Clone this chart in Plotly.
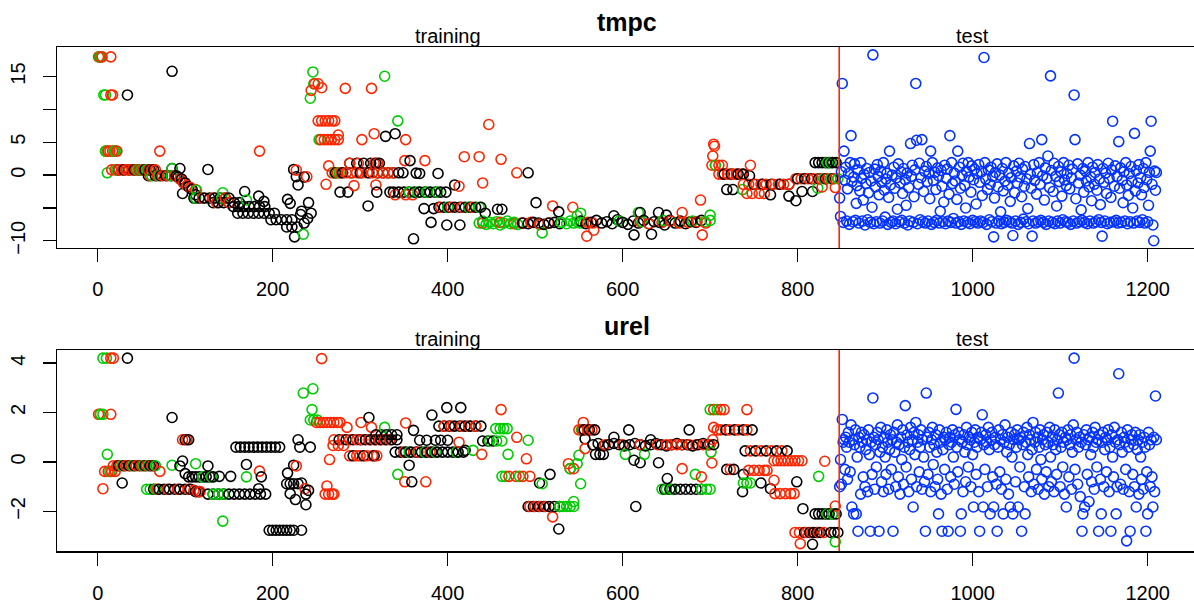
import plotly.graph_objects as go

FONT = "Liberation Sans, Arial, Helvetica, sans-serif"
BLACK = "#000000"
RED = "#FF2600"
GREEN = "#00CC00"
BLUE = "#0433FF"

# ---------------- tmpc : training (index, value) per colour ----------------
tmpc_black_x = [24, 30, 36, 42, 48, 54, 60, 64, 34, 85,
                58, 66, 72, 78, 84, 90, 85, 94,
                92, 96, 97, 100, 104, 108, 112, 126,
                110, 116, 122, 128, 134, 140, 146, 150,
                132, 138, 144, 150, 156, 162,
                155, 161, 167, 173, 179, 185, 191,
                160, 166, 172, 178, 184, 190, 196, 202,
                198, 204, 210, 216, 222, 216, 222, 228,
                168, 184, 190, 217, 220, 224, 227, 229, 236, 225, 232, 236, 240, 244, 241, 233,
                272, 280, 290, 300, 310, 320, 326, 332, 338, 344,
                288, 296, 304, 312, 318, 322,
                277, 286, 309, 319, 329, 340, 334, 349, 357, 364,
                338, 344, 350, 356, 362, 368, 374, 380, 386, 392, 398,
                361, 373, 381, 384, 389, 399, 414, 368,
                390, 396, 402, 408, 414, 420, 426, 432, 438,
                408, 443, 457, 462, 492, 501, 527,
                486, 492, 498, 504, 510, 516, 522, 528,
                552, 558, 564, 570, 576, 582, 588, 594, 600, 606, 612, 618,
                624, 630, 636, 642, 648, 654, 660, 666, 672, 678, 684, 690,
                590, 613, 633, 620, 641, 650,
                716, 724, 732, 738, 719, 726, 745,
                750, 760, 770, 780, 790, 790, 798, 805, 817, 769,
                800, 808, 816, 824, 832, 840,
                820, 824, 828, 832, 836, 840, 844]
tmpc_black_y = [0.8, 0.8, 0.8, 0.8, 0.8, 0.8, 0.8, 0.8, 12.2, 15.8,
                -0.1, -0.1, -0.1, -0.1, -0.1, -0.1, 1.0, 1.0,
                -0.3, -0.6, -2.8, -1.2, -1.8, -2.2, -3.0, 0.86,
                -3.5, -3.5, -3.5, -3.5, -3.5, -3.5, -3.5, -3.5,
                -4.2, -4.2, -4.2, -4.2, -4.2, -4.2,
                -4.8, -4.8, -4.8, -4.8, -4.8, -4.8, -4.8,
                -5.8, -5.8, -5.8, -5.8, -5.8, -5.8, -5.8, -5.8,
                -6.8, -6.8, -6.8, -6.8, -6.8, -7.9, -7.9, -7.9,
                -2.5, -3.2, -4.0, -3.7, -4.3, 0.86, -0.25, -1.5, -0.3, -9.4, -6.0, -7.3, -6.6, -5.8, -4.2, -5.5,
                0.35, 0.35, 0.35, 0.35, 0.35, 0.35, 0.35, 0.35, 0.35, 0.35,
                1.8, 1.8, 1.8, 1.8, 1.8, 1.8,
                -2.6, -2.6, -4.7, -2.6, 5.9, 6.3, -2.6, 0.35, 2.2, 0.3,
                -2.6, -2.6, -2.6, -2.6, -2.6, -2.6, -2.6, -2.6, -2.6, -2.6, -2.6,
                -9.7, -5.1, -7.2, -5.1, 0.25, -7.6, -7.6, 0.25,
                -4.9, -4.9, -4.9, -4.9, -4.9, -4.9, -4.9, -4.9, -4.9,
                -1.5, -5.8, -5.2, -5.2, 0.35, -4.2, -5.6,
                -7.3, -7.4, -7.2, -7.3, -7.5, -7.3, -7.2, -7.4,
                -7.0, -7.4, -7.2, -6.9, -7.3, -7.1, -7.4, -6.8, -7.2, -7.5, -7.0, -7.3,
                -6.9, -7.4, -7.1, -7.2, -7.6, -6.9, -7.3, -7.0, -7.4, -7.1, -7.2, -6.9,
                -6.2, -9.1, -9.0, -5.7, -5.7, -6.1,
                0.15, 0.15, 0.15, 0.15, -2.2, -2.2, -0.1,
                -1.4, -1.4, -1.4, -1.4, -1.4, -3.2, -3.9, -2.5, -2.5, -3.0,
                -0.55, -0.55, -0.55, -0.55, -0.55, -0.55,
                1.9, 1.9, 1.9, 1.9, 1.9, 1.9, 1.9]

tmpc_red_x = [1, 3, 5, 15, 15, 17, 9, 12, 14, 17, 19, 22, 71, 185,
              16, 20, 24, 28, 32, 36, 40, 44, 48, 52, 58, 62, 66,
              60, 68, 74, 80, 88, 94, 98, 102, 106, 112,
              120, 132, 146, 136, 150, 227, 239,
              244, 248, 252, 256,
              252, 256, 260, 264, 268, 271,
              255, 259, 263, 267, 271, 275, 275, 264, 261,
              268, 274, 278, 284, 290, 296, 302, 308, 314, 320, 326, 332, 338,
              288, 298, 316, 320,
              293, 318, 283, 313, 302, 316, 352,
              340, 352, 360, 351, 374,
              392, 404, 416, 428,
              413, 419, 436, 447, 440, 461, 479, 520, 543,
              440, 460, 476, 485, 495, 505, 515,
              560, 566, 620, 630, 645, 655, 665, 675, 685, 695,
              559, 567, 668, 689, 691,
              703, 704, 705, 702, 706, 710, 714,
              710, 714, 720, 726, 730, 736, 746,
              738, 744, 752, 758, 764, 772, 778, 784, 790,
              742, 748, 756, 762, 828,
              798, 804, 812, 818, 826, 834, 842, 843]
tmpc_red_y = [18.0, 18.0, 18.0, 18.0, 12.2, 12.2, 3.65, 3.65, 3.65, 3.65, 3.65, 3.65, 3.65, 3.65,
              0.8, 0.8, 0.8, 0.8, 0.8, 0.8, 0.8, 0.8, 0.8, 0.8, 0.8, 0.8, 0.8,
              -0.1, -0.1, -0.1, -0.1, -0.1, -0.6, -1.2, -1.6, -1.9, -2.2,
              -3.5, -3.5, -3.5, -4.2, -4.2, 0.76, -0.25,
              12.9, 13.9, 13.9, 13.3,
              8.26, 8.26, 8.26, 8.26, 8.26, 8.26,
              5.4, 5.4, 5.4, 5.4, 5.4, 5.4, 6.1, 1.4, -1.4,
              0.35, 0.35, 0.35, 0.35, 0.35, 0.35, 0.35, 0.35, 0.35, 0.35, 0.35, 0.35, 0.35,
              1.8, 1.8, 1.8, 1.8,
              -1.6, -1.5, 13.2, 13.2, 5.4, 6.3, 5.4,
              -3.0, -3.0, -3.0, 2.2, 2.2,
              -4.9, -4.9, -4.9, -4.9,
              -1.7, 2.8, 2.8, 7.7, -1.2, 2.4, 0.35, -4.7, -4.9,
              -7.3, -7.2, -7.4, -7.3, -7.2, -7.5, -7.3,
              -7.2, -7.3, -7.1, -7.4, -7.2, -7.0, -7.3, -7.2, -7.1, -7.3,
              -9.3, -8.4, -5.7, -3.8, -9.1,
              2.9, 4.7, 4.4, 1.5, 1.5, 1.5, 1.5,
              0.15, 0.15, 0.15, 0.15, 0.15, 0.15, 1.5,
              -1.4, -1.4, -1.4, -1.4, -1.4, -1.4, -1.4, -1.4, -1.4,
              -2.8, -2.8, -2.8, -2.8, -1.8,
              -0.55, -0.55, -0.55, -0.55, -0.55, -0.55, -0.55, -1.9]

tmpc_green_x = [2, 4, 7, 9, 9, 11, 19, 21, 11,
                22, 46, 50, 56, 62, 70, 84, 85,
                113, 112, 142, 143, 170, 235,
                246, 243, 247, 253, 271, 276, 328, 343,
                356, 366, 376, 388, 400, 424, 436,
                436, 440, 444, 448, 452, 456, 460, 464, 468, 472, 476, 480,
                530, 536, 540, 544, 548, 552, 548, 552, 508,
                596, 622, 646, 664, 680, 694, 700, 618, 700,
                706, 737, 823, 830, 838, 846, 834, 838]
tmpc_green_y = [18.0, 18.0, 12.2, 12.2, 3.65, 3.65, 3.65, 3.65, 0.35,
                0.8, 0.8, 0.8, 0.8, -0.1, -0.1, -0.1, 1.0,
                -2.3, -3.5, -3.5, -2.7, -3.8, -9.0,
                15.7, 11.7, 13.9, 5.4, 0.35, 0.35, 15.05, 8.26,
                -2.6, -2.6, -2.6, -2.6, -4.9, -4.9, -4.9,
                -7.3, -7.0, -7.5, -7.2, -7.4, -7.1, -7.6, -7.3, -7.0, -7.4, -7.2, -7.5,
                -7.2, -7.4, -7.0, -7.3, -6.2, -5.8, -7.1, -7.3, -8.8,
                -7.0, -7.1, -6.9, -7.2, -7.0, -7.1, -6.9, -5.7, -6.1,
                1.5, -2.2, -2.0, -0.55, -0.55, -0.55, 1.9, 1.9]

# ---------------- tmpc : test (index 848..1210) ----------------
tmpc_test_y = [
    -3.5, -6.3, 0.5, 13.95, -7.2, 3.65, -0.8, 1.2, -7.0, -2.1, 0.2, -7.5, 1.9, 6.0, -1.0, -7.1, -0.3, 1.7, -6.9, -4.3,
    -1.6, 0.8, -7.3, -2.4, 1.9, -0.5, -7.0, -3.8, 0.1, -7.6, -1.3, 1.0, -6.8, -2.7, 0.4, -7.2, -0.9, -4.9, 18.3, -7.4,
    0.9, -1.8, -7.1, 1.6, -0.2, -3.0, -7.3, 0.6, -1.1, -7.0, 1.9, -2.3, -6.4, -0.6, 0.3, -7.5, -3.4, 3.65, -1.5, -7.2,
    0.0, -7.0, 1.2, -2.0, -7.4, -0.4, -5.2, 1.7, -7.1, -1.2, 0.5, -6.9, -2.8, 1.0, -7.3, -0.7, -4.6, 0.3, -7.6, -1.9,
    -7.0, 4.8, -0.2, 1.5, -7.2, -3.3, 0.8, 13.95, 5.3, -7.4, -1.4, 1.8, -6.8, -0.4, 5.4, -7.1, -2.5, 0.6, -7.3, 1.3,
    -1.0, -7.0, 0.2, -3.6, 3.65, -7.5, 1.9, -0.8, -7.2, 0.4, -2.2, -6.9, 1.1, -0.1, -7.3, -5.5, 0.7, -1.7, -7.1, -4.1,
    1.5, -7.4, -0.5, 0.9, -7.0, -2.9, 6.0, -7.2, 1.9, -1.3, -6.6, 0.3, -0.9, -7.3, -3.7, 3.65, -7.1, 1.2, -2.0, -7.5,
    0.0, 1.8, -7.0, -1.6, -5.0, 0.6, -7.2, 1.9, -0.3, -7.4, -2.6, 1.4, -6.9, -0.7, 0.9, -7.1, -4.4, 0.2, -7.3, 1.6,
    -1.1, -7.0, 0.5, -3.1, -7.2, 17.9, 1.9, -0.6, -7.5, -2.2, 0.8, -6.8, -1.4, 1.2, -7.1, -0.2, -9.4, -3.5, 0.4, -7.3,
    1.7, -1.8, -7.0, 0.0, -5.6, -7.4, 1.0, -2.4, -7.2, -0.9, 1.9, -6.9, -1.5, 0.3, -7.1, -4.0, -0.4, -7.3, -9.2, 1.4,
    -2.7, -7.0, 0.6, -1.2, -7.5, 1.8, -0.3, -7.2, -3.3, 0.9, -6.7, -1.7, 1.3, -7.1, -0.6, -5.1, -7.4, 4.8, 0.1, -2.0,
    -9.3, -7.0, 1.6, -0.8, -7.3, -2.9, 0.4, -7.1, 1.9, -1.4, -6.9, 5.4, -0.1, -7.2, -3.8, 1.1, -7.5, -0.5, 2.9, -7.0,
    -1.9, 15.1, 0.7, -7.2, -2.5, 1.8, -7.4, -0.2, -4.7, -7.0, 1.3, -1.0, -7.3, 0.5, -3.2, -6.8, 1.9, -0.7, -7.1, -1.6,
    0.2, -7.2, 1.5, -2.1, -7.5, -0.4, 0.9, -7.0, 12.2, 5.4, -3.6, -7.3, 1.7, -1.2, -7.1, 0.0, -5.3, -6.9, 1.0, -2.6,
    -7.2, 0.6, -0.9, -7.4, 1.9, -1.8, -7.0, -0.3, -3.9, 1.2, -7.3, -1.4, 0.4, -7.1, -2.3, 1.6, -6.8, -0.6, -4.5, -7.2,
    -9.3, 1.0, -1.1, -7.0, 0.3, -2.8, -7.4, 1.8, -0.5, -7.2, -3.4, 0.8, 8.2, -7.1, -1.7, 1.4, -6.9, -0.2, -7.3, 5.1,
    -2.0, 1.1, -7.2, -0.8, -4.2, 0.5, -7.0, 1.9, -1.5, -7.4, -3.1, 0.2, -7.1, 1.3, -0.9, -5.0, -7.3, 6.35, -2.4, 0.7,
    -7.0, -1.2, 1.6, -7.2, -0.4, -3.0, -6.8, 1.0, -1.9, -7.3, 1.9, -0.7, -7.1, -4.6, 0.4, 3.65, 8.2, -1.4, -7.6, -10.0,
    0.6, -2.3, 0.4]

# ---------------- urel : training (index, value) per colour ----------------
urel_black_x = [34, 28, 24, 30, 36, 42, 48, 54, 60, 64, 85, 97, 94, 100, 100, 104,
                64, 70, 76, 82, 88, 94, 100, 106, 112, 116,
                104, 108, 112, 116, 120, 124, 128, 132, 126, 139, 152,
                126, 132, 138, 144, 150, 156, 162, 168, 174, 180, 186, 170,
                158, 163, 168, 173, 178, 183, 188, 193, 198, 203, 208,
                187, 184, 192,
                196, 200, 204, 208, 212, 216, 220, 224, 233,
                217, 216, 220, 224, 229, 220, 226, 238, 233, 241, 238,
                229, 231, 243, 224,
                276, 284, 292, 300, 306, 312, 318, 324, 330, 336, 342, 310,
                292, 304, 316, 318, 324, 330, 336, 342,
                359, 356, 361, 382,
                340, 346, 352, 358, 364, 370, 376, 382, 388, 394, 400, 406, 412, 418,
                368, 376, 386, 392, 400, 399, 415, 420,
                390, 396, 402, 408, 414, 420, 426, 432, 438,
                440, 446, 452, 517, 505,
                492, 498, 504, 510, 516, 522, 528, 527,
                556, 562, 568, 557, 569, 574, 578,
                566, 572, 578, 584, 590, 596, 602, 608, 614, 620, 626, 632,
                638, 644, 650, 656, 662, 668, 674, 680, 686, 692, 698, 704,
                607, 590, 632, 613, 620, 641, 615,
                648, 654, 660, 666, 672, 678, 684, 690, 651, 676,
                718, 728, 738, 748, 719, 727, 738, 737,
                740, 752, 764, 776, 788, 758, 769, 799, 806,
                808, 814, 818, 822, 826, 817,
                820, 824, 828, 832, 836, 840, 844, 838, 842, 846]
urel_black_y = [4.2, -0.85, -0.15, -0.15, -0.15, -0.15, -0.15, -0.15, -0.15, -0.15, 1.8, 0.04, -0.16, -0.47, 0.9, 0.9,
                -1.1, -1.1, -1.1, -1.1, -1.1, -1.1, -1.1, -1.1, -1.2, -1.2,
                -0.6, -0.6, -0.6, -0.6, -0.6, -0.6, -0.6, -0.6, -0.16, -0.58, -0.58,
                -1.3, -1.3, -1.3, -1.3, -1.3, -1.3, -1.3, -1.3, -1.3, -1.3, -1.3, -0.1,
                0.6, 0.6, 0.6, 0.6, 0.6, 0.6, 0.6, 0.6, 0.6, 0.6, 0.6,
                -0.6, -1.08, -1.3,
                -2.76, -2.76, -2.76, -2.76, -2.76, -2.76, -2.76, -2.76, -2.76,
                -0.45, -0.88, -0.88, -0.88, -0.88, -1.28, -1.52, -1.73, -0.85, -1.15, -1.3,
                0.9, 0.6, 0.6, -0.13,
                0.9, 0.9, 0.9, 0.9, 0.9, 0.9, 0.9, 0.9, 0.9, 0.9, 0.9, 1.8,
                0.25, 0.25, 0.25, 1.1, 1.1, 1.1, 1.1, 1.1,
                -0.8, -0.13, 1.28, 1.9,
                0.4, 0.4, 0.4, 0.4, 0.4, 0.4, 0.4, 0.4, 0.4, 0.4, 0.4, 0.4, 0.4, 0.4,
                0.88, 0.88, 0.88, 0.88, 0.88, 2.2, 2.2, 0.47,
                1.45, 1.45, 1.45, 1.45, 1.45, 1.45, 1.45, 1.45, 1.45,
                0.85, 0.85, 0.85, -0.5, -0.85,
                -1.8, -1.8, -1.8, -1.8, -1.8, -1.8, -1.8, -2.71,
                1.3, 1.3, 1.3, 0.94, 0.31, 0.31, 0.31,
                0.7, 0.75, 0.65, 0.7, 0.75, 0.7, 0.65, 0.7, 0.75, 0.7, 0.65, 0.7,
                0.75, 0.7, 0.65, 0.7, 0.75, 0.7, 0.7, 0.65, 0.7, 0.75, 0.7, 0.7,
                1.3, 1.0, 0.9, 0.07, -0.03, -0.03, -1.8,
                -1.1, -1.1, -1.1, -1.1, -1.1, -1.1, -1.1, -1.1, -0.67, 1.3,
                1.3, 1.3, 1.3, 1.3, -0.3, -0.3, -0.5, -1.2,
                0.45, 0.45, 0.45, 0.45, 0.45, -0.85, -1.08, -0.8, -1.89,
                -2.85, -2.85, -2.85, -2.85, -2.85, -3.33,
                -2.1, -2.1, -2.1, -2.1, -2.1, -2.1, -2.1, -2.85, -2.85, -2.85]

urel_red_x = [15, 18, 1, 3, 15, 6, 8, 12, 16, 20,
              18, 22, 26, 32, 38, 44, 50, 56, 62, 71, 97, 102,
              68, 80, 92, 104, 110, 114, 117, 185, 227, 237, 256,
              250, 254, 258, 262, 266, 270, 274, 277, 260, 264, 268, 270, 262, 265,
              270, 280, 288, 296, 302, 310, 316, 322, 328, 334, 269, 275, 281,
              285, 301, 313, 352, 288, 296, 300, 308, 314, 319, 351, 375,
              350, 366, 380, 396, 404, 416, 424, 432, 413,
              439, 461, 479, 490, 470, 478, 486, 494,
              494, 500, 506, 512, 520, 540, 544, 538,
              550, 554, 560, 565, 555, 557,
              580, 600, 620, 640, 650, 656, 662, 668, 676, 684, 692, 700, 668, 690,
              704, 712, 716, 704, 703, 702,
              708, 712, 722, 732, 742, 742, 723,
              744, 750, 756, 762, 765, 746, 758, 770, 782, 773,
              774, 780, 786, 792, 796,
              773, 777, 781, 785, 789, 793, 797, 801, 805,
              797, 802, 810, 816, 824, 830, 803, 831, 843]
urel_red_y = [4.2, 4.2, 1.93, 1.93, 1.93, -1.08, -0.38, -0.38, -0.38, -0.38,
              -0.15, -0.15, -0.15, -0.15, -0.15, -0.15, -0.15, -0.15, -0.15, -0.38, 0.9, 0.9,
              -1.1, -1.1, -1.1, -1.1, -1.15, -1.2, -1.2, -0.37, -0.16, -1.08, 4.18,
              1.6, 1.6, 1.6, 1.6, 1.6, 1.6, 1.6, 1.6, -1.3, -1.3, -1.3, -1.3, -0.97, 0.1,
              0.9, 0.9, 0.9, 0.9, 0.9, 0.9, 0.9, 0.9, 0.9, 0.9, 0.67, 0.67, 0.67,
              1.4, 1.6, 1.4, 1.58, 0.25, 0.25, 0.25, 0.25, 0.25, 0.25, -0.8, -0.8,
              0.4, 0.4, 0.4, 1.45, 1.45, 1.45, 1.45, 1.45, 0.8,
              0.31, 2.12, 1.0, 0.13, -0.58, -0.58, -0.58, -0.58,
              -1.8, -1.8, -1.8, -1.8, -2.22, -0.27, -0.27, -0.07,
              1.3, 1.3, 1.3, 1.3, 1.6, 0.54,
              0.7, 0.7, 0.7, 0.7, 0.7, 0.7, 0.7, 0.7, 0.7, 0.7, 0.7, 0.7, -0.27, -0.6,
              2.12, 2.12, 2.12, 1.4, 0.9, -0.04,
              1.3, 1.3, 1.3, 1.3, 1.3, 2.12, -0.3,
              -0.34, -0.34, -0.34, -0.34, -0.34, 0.45, 0.45, 0.45, 0.45, -0.74,
              -1.28, -1.28, -1.28, -1.28, -1.28,
              0.05, 0.05, 0.05, 0.05, 0.05, 0.05, 0.05, 0.05, 0.05,
              -2.85, -2.85, -2.85, -2.85, -2.85, -2.85, -3.3, 0.03, -1.78]

urel_green_x = [6, 10, 3, 6, 11, 14, 28, 40, 52, 58, 66, 85, 112,
                56, 60, 66, 120, 130, 132, 138, 144, 143, 170,
                235, 246, 245, 243, 247, 251, 328, 343,
                356, 374, 386, 410, 429, 448, 456, 462,
                455, 460, 464, 468, 469, 492, 462, 466, 482, 508,
                528, 532, 536, 540, 544, 544, 552, 540, 548, 550, 553,
                603, 625, 645, 650, 656, 690, 696, 700, 683,
                700, 708, 701, 738, 742, 746, 824, 834, 840, 843]
urel_green_y = [4.2, 4.2, 1.93, 1.93, 0.31, -0.38, -0.15, -0.15, -0.15, -0.15, -0.15, -0.13, -0.07,
                -1.1, -1.1, -1.1, -0.6, -0.6, -1.3, -1.3, -1.3, -2.39, -0.6,
                2.79, 2.96, 2.12, 1.7, 1.7, 1.7, 1.4, -0.5,
                0.4, 0.4, 0.4, 0.4, 0.47, 0.85, 0.85, 0.85,
                1.35, 1.35, 1.35, 1.35, 0.31, 0.88, -0.58, -0.58, -0.58, -0.88,
                -1.8, -1.8, -1.8, -1.8, -1.8, -1.6, -0.88, -0.27, -0.07, 0.27, 1.3,
                0.31, 0.31, -1.1, -1.1, -1.1, -1.1, -1.1, -1.1, -0.5,
                2.12, 2.12, 0.4, -0.85, -0.85, -0.85, -0.58, -2.1, -2.1, -3.23]

# ---------------- urel : test (index 848..1210) ----------------
urel_test_y = [
    -1.0, 0.1, -0.9, 1.72, 0.8, 0.9, -0.3, 1.0, 0.6, -0.7, 1.2, 0.8, -0.4, 1.5, -1.82, 0.9, -2.1, 0.7, 1.3, -2.1,
    0.2, -2.8, 1.0, 0.6, -1.3, 1.2, 0.8, -0.6, 1.1, -1.0, 0.5, 0.9, -1.2, 1.3, 0.3, -2.8, 0.8, -0.5, 2.59, 1.0,
    -1.1, 0.7, -0.2, 1.2, 0.9, -2.8, 0.4, 1.4, -0.8, 0.6, -1.2, 1.0, 0.2, -0.5, 1.3, 0.8, -1.1, 0.5, 1.1, -0.3,
    0.9, -2.8, 1.2, 0.4, -1.0, 0.8, 1.5, -0.6, 0.7, -1.3, 1.0, 0.1, 1.3, -0.9, 0.6, 2.28, -0.2, 1.1, 0.8, -1.2,
    0.5, 1.4, -0.7, 0.9, -1.82, 1.2, 0.3, 1.6, -1.0, 0.8, 1.1, -0.4, 0.6, 1.3, -1.1, 0.9, 0.2, -0.8, -2.8, 2.79,
    1.0, -0.5, 1.2, 0.6, -1.2, 0.9, 1.4, -0.1, 0.7, -1.0, 1.1, 0.4, -0.7, -2.1, 1.3, 0.8, -1.3, -2.8, 0.5, 1.0,
    -0.3, 0.9, 1.2, -1.1, -2.8, 0.7, 1.0, -0.6, 0.8, 1.3, 0.2, -0.9, 1.1, 2.13, 0.6, -0.4, 1.2, 0.9, -2.8, -2.1,
    0.8, -1.2, 1.1, 0.4, -0.8, 1.4, 0.7, -0.2, 1.0, 0.9, -1.0, 1.2, 0.3, -1.82, 0.8, 1.3, -0.5, 0.6, 1.0, -1.2,
    -2.8, 0.9, 1.2, 1.91, -1.82, 0.7, -0.3, 1.1, 0.8, -1.0, 1.4, 0.5, -2.1, 0.9, 1.2, -0.6, -1.82, 0.7, 1.0, -0.9,
    -2.8, 0.6, 1.3, -0.4, 0.9, -1.1, 1.1, -2.1, 0.8, 1.5, -0.7, 0.4, 1.0, -1.3, 0.7, -1.82, 1.2, 0.2, -2.1, 0.9,
    1.1, -0.8, 0.6, 1.3, -1.82, 0.9, -0.2, 1.0, -2.8, 0.7, 1.2, -1.0, -2.1, 0.8, 1.4, 0.3, -0.6, 1.1, 0.9, -1.2,
    0.5, 1.6, -0.9, 0.8, 1.2, -0.3, 1.0, -1.1, 0.6, 1.3, 0.1, -0.7, 0.9, 1.1, -1.3, 0.7, -0.4, 1.2, 0.8, -1.0,
    1.4, 0.2, -0.8, 1.0, 0.7, -1.2, 1.3, 0.5, -0.5, 0.9, 2.79, 1.1, -1.0, 0.6, 1.2, -0.2, 0.8, -1.3, 1.0, -1.82,
    0.9, 1.3, -0.6, 0.7, 1.1, -1.1, 0.4, 1.5, 4.2, -0.3, 0.9, 1.2, -0.9, 0.6, 1.0, -1.4, 0.8, -2.8, -2.1, 1.1,
    -1.82, 0.7, 1.3, -0.5, 0.9, -1.6, 1.0, 0.3, -0.8, 1.2, 0.6, -1.1, 1.4, 0.8, -0.2, 0.9, -2.8, 1.1, -0.7, -2.1,
    0.8, 1.2, -1.0, 0.5, 1.0, -0.4, 0.9, 1.3, -1.2, 0.6, -2.8, 1.1, 0.2, -0.6, 1.4, 0.8, -2.1, -1.0, 0.9, 3.57,
    0.7, -0.9, 1.2, 0.4, -1.1, 1.0, 0.8, -0.3, -3.19, 1.3, 0.6, -1.2, -2.8, 0.9, 1.1, -0.5, 0.7, -1.0, 1.2, -1.82,
    0.5, 0.9, -1.3, 1.1, 0.2, -0.7, 0.8, -1.1, 1.0, 0.6, -2.8, -0.4, -2.1, 1.2, 0.7, -1.0, 0.9, -0.6, -1.82, 1.0,
    -1.2, 2.67, 0.9]

TEST_START = 848
SPLIT_X = 847.5
x_ticks = [0, 200, 400, 600, 800, 1000, 1200]
tmpc_ticks = [-10, -5, 0, 5, 10, 15]
tmpc_ticktext = ["\u221210", "", "0", "5", "", "15"]
urel_ticks = [-2, 0, 2, 4]
urel_ticktext = ["\u22122", "0", "2", "4"]

MSIZE = 10
MLINE = 1.6


def training_trace(groups, xa, ya):
    pts = []
    for xs, ys, col in groups:
        for xv, yv in zip(xs, ys):
            pts.append((xv, yv, col))
    pts.sort(key=lambda p: p[0])
    return go.Scatter(
        x=[p[0] for p in pts], y=[p[1] for p in pts], mode="markers",
        marker=dict(symbol="circle-open", size=MSIZE, color=[p[2] for p in pts],
                    line=dict(width=MLINE)),
        xaxis=xa, yaxis=ya, showlegend=False, hoverinfo="skip")


def test_trace(ys, xa, ya):
    xs = list(range(TEST_START, TEST_START + len(ys)))
    return go.Scatter(
        x=xs, y=ys, mode="markers",
        marker=dict(symbol="circle-open", size=MSIZE, color=BLUE, line=dict(width=MLINE)),
        xaxis=xa, yaxis=ya, showlegend=False, hoverinfo="skip")


fig = go.Figure()
fig.add_trace(training_trace([(tmpc_black_x, tmpc_black_y, BLACK),
                              (tmpc_red_x, tmpc_red_y, RED),
                              (tmpc_green_x, tmpc_green_y, GREEN)], "x", "y"))
fig.add_trace(test_trace(tmpc_test_y, "x", "y"))
fig.add_trace(training_trace([(urel_black_x, urel_black_y, BLACK),
                              (urel_red_x, urel_red_y, RED),
                              (urel_green_x, urel_green_y, GREEN)], "x2", "y2"))
fig.add_trace(test_trace(urel_test_y, "x2", "y2"))

xcommon = dict(range=[-46.5, 1253], tickmode="array", tickvals=x_ticks,
               ticks="outside", ticklen=13, tickwidth=1.4, tickcolor="black",
               showline=True, linecolor="black", linewidth=1.5, mirror=True,
               showgrid=False, zeroline=False, automargin=False,
               ticklabelstandoff=10,
               tickfont=dict(family=FONT, size=20, color="black"))
ycommon = dict(ticks="outside", ticklen=13, tickwidth=1.4, tickcolor="black",
               showline=True, linecolor="black", linewidth=1.5, mirror=False,
               showgrid=False, zeroline=False, tickangle=-90, tickmode="array",
               automargin=False, ticklabelstandoff=10,
               tickfont=dict(family=FONT, size=20, color="black"))

fig.update_layout(
    width=1194, height=606,
    margin=dict(l=57, r=0, t=47, b=55, pad=0, autoexpand=False),
    paper_bgcolor="white", plot_bgcolor="white",
    hovermode=False,
    xaxis=dict(domain=[0, 1], anchor="y", **xcommon),
    yaxis=dict(domain=[0.6012, 1.0], anchor="x", range=[-11.1, 19.5],
               tickvals=tmpc_ticks, ticktext=tmpc_ticktext, **ycommon),
    xaxis2=dict(domain=[0, 1], anchor="y2", **xcommon),
    yaxis2=dict(domain=[0, 0.3988], anchor="x2", range=[-3.6, 4.53],
                tickvals=urel_ticks, ticktext=urel_ticktext, **ycommon),
    shapes=[
        dict(type="line", xref="x", yref="y domain", x0=SPLIT_X, x1=SPLIT_X, y0=0, y1=1,
             line=dict(color=RED, width=1.6)),
        dict(type="line", xref="x2", yref="y2 domain", x0=SPLIT_X, x1=SPLIT_X, y0=0, y1=1,
             line=dict(color=RED, width=1.6)),
    ],
)


def ypix(p):
    return (551 - p) / 504.0


ann = [
    dict(text="<b>tmpc</b>", xref="paper", yref="paper", x=0.5013, y=ypix(22),
         font=dict(family=FONT, size=25, color="black")),
    dict(text="training", xref="x", yref="paper", x=400, y=ypix(36),
         font=dict(family=FONT, size=20, color="black")),
    dict(text="test", xref="x", yref="paper", x=1000, y=ypix(36),
         font=dict(family=FONT, size=20, color="black")),
    dict(text="<b>urel</b>", xref="paper", yref="paper", x=0.5013, y=ypix(326),
         font=dict(family=FONT, size=25, color="black")),
    dict(text="training", xref="x2", yref="paper", x=400, y=ypix(338.5),
         font=dict(family=FONT, size=20, color="black")),
    dict(text="test", xref="x2", yref="paper", x=1000, y=ypix(338.5),
         font=dict(family=FONT, size=20, color="black")),
]
for a in ann:
    a.update(showarrow=False, xanchor="center", yanchor="middle")
fig.update_layout(annotations=ann)

fig.write_html("out.html",
               config={"displayModeBar": False, "staticPlot": True},
               post_script="document.body.style.margin='0';document.body.style.padding='0';")
